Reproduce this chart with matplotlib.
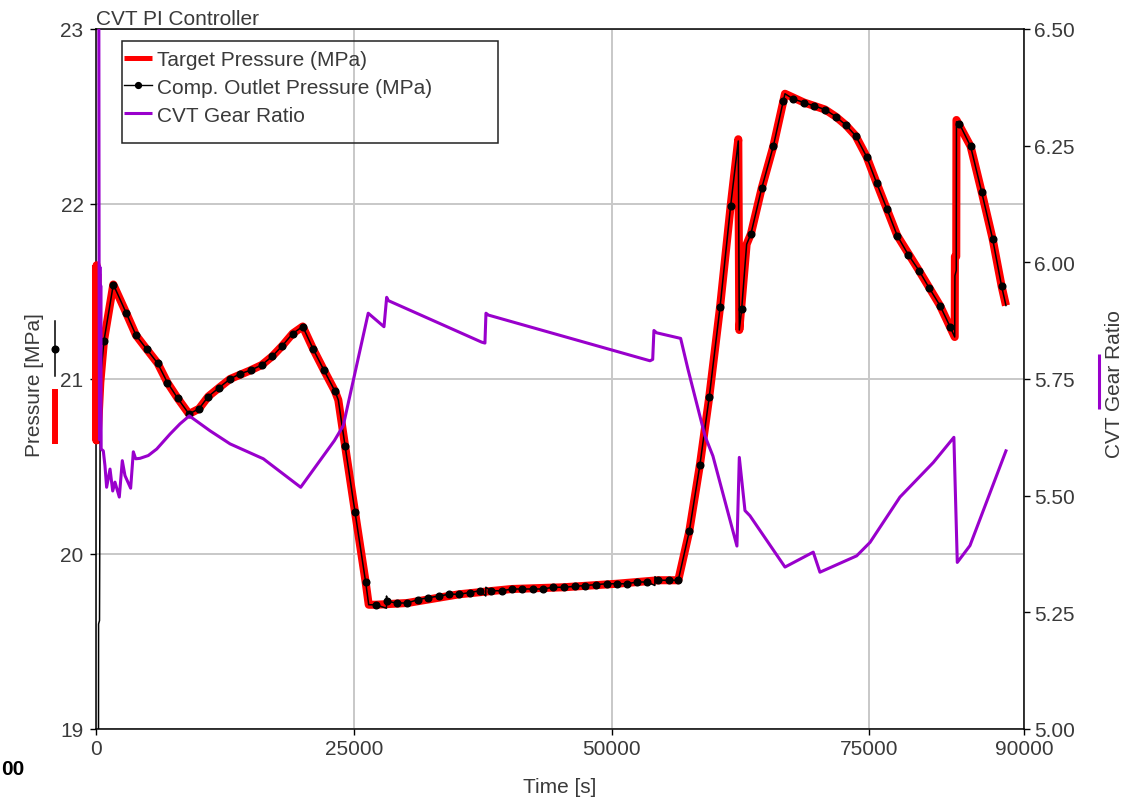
import matplotlib
matplotlib.use("Agg")
import matplotlib.pyplot as plt
from matplotlib.lines import Line2D
from matplotlib.patches import Rectangle

plt.rcParams["font.family"] = ["Liberation Sans", "DejaVu Sans"]

# ---------------- data ----------------
# Target pressure set-point (MPa) vs time (s)
target_time = [0, 30, 60, 90, 120, 150, 420, 776, 1680, 2910, 3880, 4920, 5980, 6920,
               7920, 9020, 9990, 10890, 11930, 13000, 15000, 16070, 17100, 18070, 19080,
               20050, 21070, 22110, 23180, 23500, 24150, 25120, 26150, 26450, 27130,
               30190, 35230, 40320, 45390, 50500, 54540, 56470, 57540, 58570, 59480,
               60520, 61550, 62290, 62390, 63100, 63520, 64560, 65690, 66820, 68660,
               70700, 71730, 72740, 73670, 74740, 75710, 77700, 79810, 81850, 83280,
               83300, 83430, 83450, 84820, 85890, 86960, 87830, 88250]
target_pressure = [21.65, 20.65, 21.65, 20.65, 21.60, 20.66, 20.98, 21.22, 21.54, 21.38,
                   21.25, 21.17, 21.09, 20.98, 20.89, 20.80, 20.83, 20.90, 20.95, 21.00,
                   21.05, 21.08, 21.13, 21.19, 21.26, 21.30, 21.17, 21.05, 20.93, 20.88,
                   20.62, 20.24, 19.84, 19.71, 19.71, 19.72, 19.77, 19.80, 19.81, 19.83,
                   19.85, 19.85, 20.13, 20.51, 20.90, 21.41, 21.99, 22.37, 21.28, 21.77,
                   21.83, 22.09, 22.33, 22.63, 22.58, 22.54, 22.50, 22.45, 22.39, 22.27,
                   22.12, 21.82, 21.62, 21.42, 21.24, 21.70, 21.70, 22.48, 22.33, 22.07,
                   21.80, 21.53, 21.42]

# Compressor outlet pressure (MPa): logged samples
comp_time = [776, 1680, 2910, 3880, 4920, 5980, 6920, 7920, 9020, 9990, 10890, 11930,
             13000, 13970, 15000, 16070, 17100, 18070, 19080, 20050, 21070, 22110, 23180,
             24150, 25120, 26150, 27130, 28190, 29160, 30190, 31260, 32230, 33290, 34260,
             35230, 36270, 37240, 38280, 39350, 40320, 41340, 42350, 43310, 44350, 45390,
             46450, 47420, 48490, 49530, 50500, 51470, 52500, 53470, 54540, 55600, 56470,
             57540, 58570, 59480, 60520, 61550, 62620, 63520, 64560, 65690, 66660, 67620,
             68660, 69660, 70700, 71730, 72740, 73670, 74740, 75710, 76720, 77700, 78780,
             79810, 80810, 81850, 82820, 83720, 84820, 85890, 86960, 87830]
comp_pressure = [21.22, 21.54, 21.38, 21.25, 21.17, 21.09, 20.98, 20.89, 20.80, 20.83,
                 20.90, 20.95, 21.00, 21.03, 21.05, 21.08, 21.13, 21.19, 21.26, 21.30,
                 21.17, 21.05, 20.93, 20.62, 20.24, 19.84, 19.71, 19.73, 19.72, 19.72,
                 19.74, 19.75, 19.76, 19.77, 19.77, 19.78, 19.79, 19.79, 19.79, 19.80,
                 19.80, 19.80, 19.80, 19.81, 19.81, 19.815, 19.82, 19.825, 19.83, 19.83,
                 19.83, 19.84, 19.84, 19.85, 19.85, 19.85, 20.13, 20.51, 20.90, 21.41,
                 21.99, 21.40, 21.83, 22.09, 22.33, 22.59, 22.60, 22.58, 22.56, 22.54,
                 22.50, 22.45, 22.39, 22.27, 22.12, 21.97, 21.82, 21.71, 21.62, 21.52,
                 21.42, 21.30, 22.46, 22.33, 22.07, 21.80, 21.53]
# Compressor outlet pressure: fast transients between logged samples
comp_transient_time = [230, 250, 340, 420, 23500, 26450, 28170, 28180, 37800, 37810,
                       54200, 54210, 62290, 62390, 63100, 66820, 83280, 83300, 83430,
                       83450, 88250]
comp_transient_pressure = [18.0, 19.60, 19.62, 21.00, 20.88, 19.71, 19.69, 19.76, 19.76,
                           19.81, 19.82, 19.87, 22.36, 21.28, 21.77, 22.63, 21.24, 21.59,
                           21.62, 22.47, 21.42]

# CVT gear ratio (-) vs time (s)
ratio_time = [240, 260, 300, 340, 380, 420, 460, 500, 708, 870, 1030, 1360, 1620, 1840,
              2260, 2550, 2810, 3360, 3620, 3850, 4270, 5070, 5890, 7180, 8150, 9050,
              11060, 13000, 16230, 19850, 23120, 23980, 26400, 27930, 28190, 28350, 37400,
              37720, 37820, 38050, 53730, 53990, 54110, 54370, 56700, 57410, 59060, 59830,
              62160, 62390, 62940, 63420, 66820, 69560, 70210, 73770, 75070, 77970, 81200,
              83200, 83300, 83530, 84760, 88250]
gear_ratio = [7.0, 6.9, 5.99, 5.62, 5.99, 5.62, 5.95, 5.60, 5.596, 5.564, 5.518, 5.557,
              5.510, 5.529, 5.497, 5.575, 5.543, 5.516, 5.594, 5.579, 5.580, 5.586, 5.600,
              5.632, 5.654, 5.671, 5.639, 5.611, 5.579, 5.518, 5.618, 5.650, 5.891, 5.862,
              5.925, 5.918, 5.829, 5.827, 5.891, 5.887, 5.789, 5.792, 5.854, 5.849, 5.837,
              5.771, 5.628, 5.585, 5.392, 5.582, 5.468, 5.457, 5.347, 5.379, 5.336, 5.371,
              5.400, 5.497, 5.571, 5.625, 5.543, 5.357, 5.393, 5.596]

x_ticks = [0, 25000, 50000, 75000, 90000]
p_ticks = [19, 20, 21, 22, 23]
r_ticks = [5.00, 5.25, 5.50, 5.75, 6.00, 6.25, 6.50]

# ---------------- styling ----------------
RED = "#ff0000"
PURPLE = "#9900cc"
TXT = "#3a3a3a"
GRID = "#c8c8c8"
FS = 15

W, H = 1144, 804
fig = plt.figure(figsize=(W / 100, H / 100), dpi=100)
ax = fig.add_axes([96 / W, 74 / H, 928 / W, 700 / H])
ax2 = ax.twinx()

# merge logged samples with transients for the continuous trace
merged = sorted(zip(comp_time + comp_transient_time,
                    comp_pressure + comp_transient_pressure))
comp_line_t = [m[0] for m in merged]
comp_line_p = [m[1] for m in merged]

ax.plot(target_time, target_pressure, color=RED, lw=5.8, solid_joinstyle="round",
        solid_capstyle="butt", zorder=3, clip_on=False)
ax.plot(comp_line_t, comp_line_p, color="black", lw=1.1, zorder=4)
ax.plot(comp_time, comp_pressure, ls="none", marker="o", ms=4.8, color="black", zorder=4)
ax2.plot(ratio_time, gear_ratio, color=PURPLE, lw=2.2, zorder=3)

ax.set_xlim(0, 90000)
ax.set_ylim(19, 23)
ax2.set_ylim(5.0, 6.5)
ax.set_xticks(x_ticks)
ax.set_xticklabels([str(v) for v in x_ticks])
ax.set_yticks(p_ticks)
ax2.set_yticks(r_ticks)
ax2.set_yticklabels([f"{v:.2f}" for v in r_ticks])

ax.grid(True, color=GRID, lw=1.4)
ax.set_axisbelow(True)

for a in (ax, ax2):
    for s in a.spines.values():
        s.set_color("black")
        s.set_linewidth(1.1)
for side in ("left", "top", "bottom"):
    ax2.spines[side].set_visible(False)
ax.spines["right"].set_visible(False)

ax.tick_params(axis="y", direction="out", length=4, width=1, labelsize=FS,
               labelcolor=TXT, pad=5)
ax.tick_params(axis="x", direction="out", length=4, width=1, labelsize=FS,
               labelcolor=TXT, pad=3.5)
ax2.tick_params(axis="y", direction="out", length=4, width=1, labelsize=FS,
                labelcolor=TXT, pad=3)

# axis titles
fig.text(96 / W, 1 - 25 / H, "CVT PI Controller", fontsize=FS, color=TXT,
         ha="left", va="baseline")
fig.text(560 / W, 1 - 788 / H, "Time [s]", fontsize=FS, color=TXT,
         ha="center", va="center")
fig.text(34 / W, 1 - 385 / H, "Pressure [MPa]", fontsize=FS, color=TXT,
         rotation=90, ha="center", va="center")
fig.text(1115 / W, 1 - 384 / H, "CVT Gear Ratio", fontsize=FS, color=TXT,
         rotation=90, ha="center", va="center")
fig.text(1 / W, 1 - 770 / H, "00", fontsize=FS, fontweight="bold", color="black",
         ha="left", va="center")

# series keys beside the axis titles
fig.add_artist(Line2D([55 / W, 55 / W], [1 - 322 / H, 1 - 377 / H], color="black",
                      lw=1.1, transform=fig.transFigure))
fig.add_artist(Line2D([55 / W], [1 - 350 / H], color="black", marker="o", ms=4.8,
                      transform=fig.transFigure))
fig.add_artist(Line2D([55 / W, 55 / W], [1 - 390 / H, 1 - 445 / H], color=RED,
                      lw=4.3, solid_capstyle="butt", transform=fig.transFigure))
fig.add_artist(Line2D([1099 / W, 1099 / W], [1 - 355 / H, 1 - 410 / H], color=PURPLE,
                      lw=2.2, solid_capstyle="butt", transform=fig.transFigure))

# legend
handles = [
    Line2D([], [], color=RED, lw=3.6, solid_capstyle="butt"),
    Line2D([], [], color="black", lw=1.0, marker="o", ms=4.2),
    Line2D([], [], color=PURPLE, lw=2.2, solid_capstyle="butt"),
]
labels = ["Target Pressure (MPa)", "Comp. Outlet Pressure (MPa)", "CVT Gear Ratio"]
leg = ax2.legend(handles, labels, loc="upper left", frameon=False, fontsize=FS,
                 bbox_to_anchor=(124 / W, 1 - 51 / H), bbox_transform=fig.transFigure,
                 borderaxespad=0, borderpad=0, handlelength=1.35, handletextpad=0.25,
                 labelspacing=0.42, labelcolor=TXT)
fig.add_artist(Rectangle((122 / W, 1 - 144 / H), (498 - 122) / W, (144 - 42) / H,
                         transform=fig.transFigure, fill=False, ec="#222222", lw=1.1))

fig.savefig("out.png", dpi=100)
